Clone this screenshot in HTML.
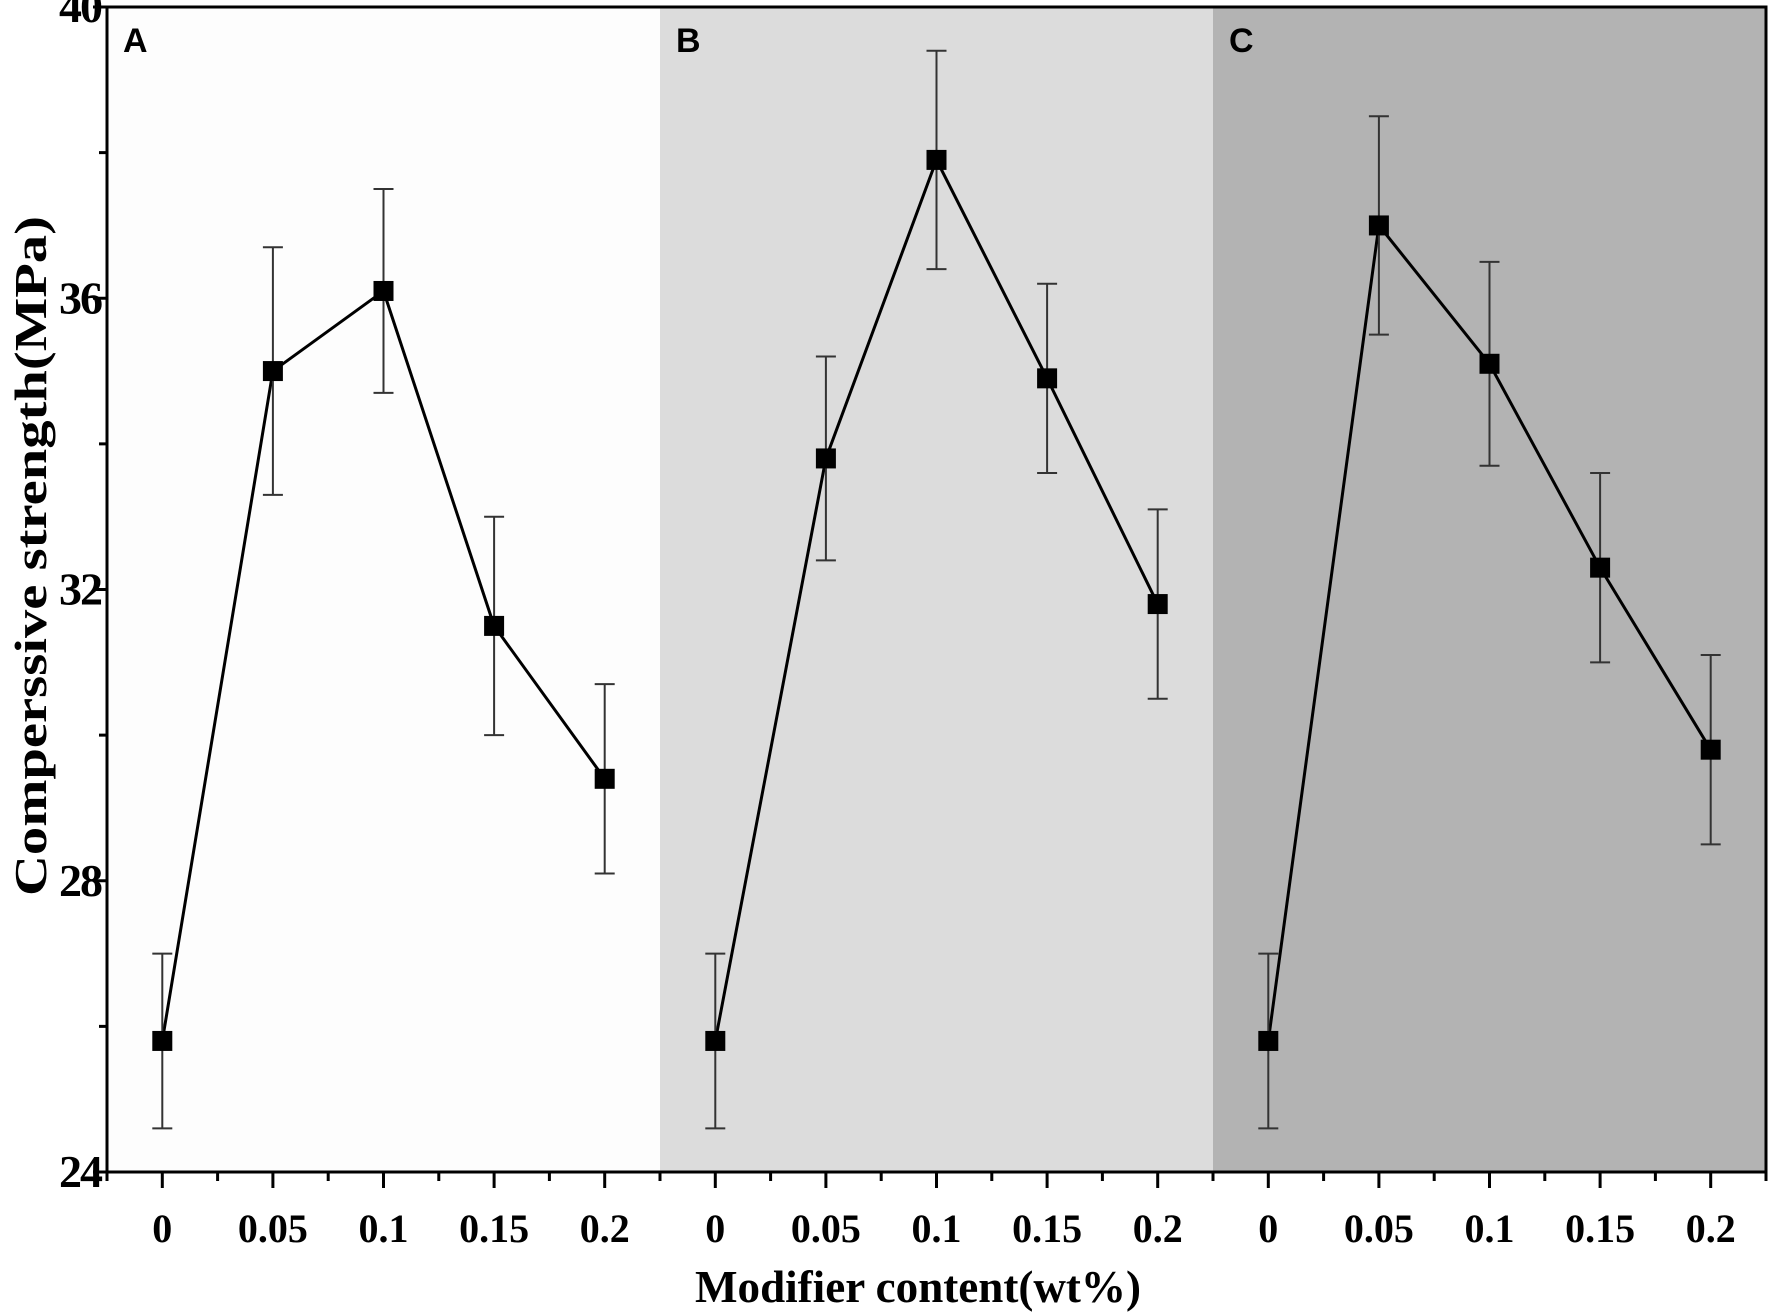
<!DOCTYPE html>
<html><head><meta charset="utf-8"><style>
html,body{margin:0;padding:0;background:#fff;}
svg{display:block;}
.tk{font-family:"Liberation Serif",serif;font-weight:bold;fill:#000;}
</style></head><body>
<svg id="chart" width="1772" height="1314" viewBox="0 0 1772 1314">
<g id="bg"></g><g id="plot"></g><g id="axes"></g>
</svg>
<script>
const categories = ["0","0.05","0.1","0.15","0.2"];
const panelLabels = ["A","B","C"];
const seriesA = [25.8, 35.0, 36.1, 31.5, 29.4];
const errorsA = [1.2, 1.7, 1.4, 1.5, 1.3];
const seriesB = [25.8, 33.8, 37.9, 34.9, 31.8];
const errorsB = [1.2, 1.4, 1.5, 1.3, 1.3];
const seriesC = [25.8, 37.0, 35.1, 32.3, 29.8];
const errorsC = [1.2, 1.5, 1.4, 1.3, 1.3];
const yTicks = [24, 28, 32, 36, 40];
const yMinorTicks = [26, 30, 34, 38];

const NS = "http://www.w3.org/2000/svg";
const L = 107, R = 1766, T = 7, B = 1172;
const yMin = 24, yMax = 40;
const panelW = (R - L) / 3;
const step = panelW / categories.length;
function y(v){ return B - (v - yMin) / (yMax - yMin) * (B - T); }
function x(panel, i){ return L + panel * panelW + step * (i + 0.5); }
function mk(tag, attrs, parent){
  const e = document.createElementNS(NS, tag);
  for (const k in attrs) e.setAttribute(k, attrs[k]);
  parent.appendChild(e); return e;
}
const bg = document.getElementById("bg"), plot = document.getElementById("plot"), axes = document.getElementById("axes");
const fills = ["#fdfdfd", "#dcdcdc", "#b3b3b3"];
const allSeries = [seriesA, seriesB, seriesC];
const allErr = [errorsA, errorsB, errorsC];

for (let p = 0; p < 3; p++) {
  const r = mk("rect", {x: L + p * panelW, y: T, width: panelW, height: B - T, fill: fills[p]}, bg);
  
  
  const t = mk("text", {x: L + p * panelW + 16, y: 52, "font-family": "Liberation Sans, sans-serif", "font-weight": "bold", "font-size": "34"}, bg);
  t.textContent = panelLabels[p];
  
  

  const s = allSeries[p], e = allErr[p];
  const pts = s.map((v, i) => x(p, i) + "," + y(v)).join(" ");
  const line = mk("polyline", {points: pts, fill: "none", stroke: "#000", "stroke-width": 3}, plot);
  
  
  s.forEach((v, i) => {
    const cx = x(p, i);
    const g = mk("g", {}, plot);
    
    
    mk("line", {x1: cx, x2: cx, y1: y(v + e[i]), y2: y(v - e[i]), stroke: "#333", "stroke-width": 2}, g);
    mk("line", {x1: cx - 10, x2: cx + 10, y1: y(v + e[i]), y2: y(v + e[i]), stroke: "#333", "stroke-width": 2}, g);
    mk("line", {x1: cx - 10, x2: cx + 10, y1: y(v - e[i]), y2: y(v - e[i]), stroke: "#333", "stroke-width": 2}, g);
    const m = mk("rect", {x: cx - 10, y: y(v) - 10, width: 20, height: 20, fill: "#000"}, plot);
    
    
  });
  categories.forEach((c, i) => {
    mk("line", {x1: x(p, i), x2: x(p, i), y1: B, y2: B + 16, stroke: "#000", "stroke-width": 3}, axes);
    const tl = mk("text", {x: x(p, i), y: 1242, "text-anchor": "middle", class: "tk", style: "font-size:40px"}, axes);
    tl.textContent = c;
    
    
  });
  for (let i = 0; i <= categories.length; i++) {
    if (p > 0 && i === 0) continue;
    const xx = L + p * panelW + step * i;
    mk("line", {x1: xx, x2: xx, y1: B, y2: B + 9, stroke: "#000", "stroke-width": 3}, axes);
  }
}
const frame = mk("rect", {x: L, y: T, width: R - L, height: B - T, fill: "none", stroke: "#000", "stroke-width": 3}, axes);


yTicks.forEach(v => {
  mk("line", {x1: L - 14, x2: L, y1: y(v), y2: y(v), stroke: "#000", "stroke-width": 3}, axes);
  const t = mk("text", {x: L - 6, y: y(v) + 15, "text-anchor": "end", class: "tk", style: "font-size:46px;letter-spacing:-2px"}, axes);
  t.textContent = v;
  
  
});
yMinorTicks.forEach(v => {
  mk("line", {x1: L - 8, x2: L, y1: y(v), y2: y(v), stroke: "#000", "stroke-width": 3}, axes);
});
const xt = mk("text", {x: 918, y: 1302, "text-anchor": "middle", class: "tk", style: "font-size:46px", textLength: "446", lengthAdjust: "spacingAndGlyphs"}, axes);
xt.textContent = "Modifier content(wt%)";


const yt = mk("text", {x: 0, y: 0, "text-anchor": "middle", class: "tk", style: "font-size:46px", textLength: "680", lengthAdjust: "spacingAndGlyphs", transform: "translate(46,556) rotate(-90)"}, axes);
yt.textContent = "Comperssive strength(MPa)";


</script>
</body></html>
